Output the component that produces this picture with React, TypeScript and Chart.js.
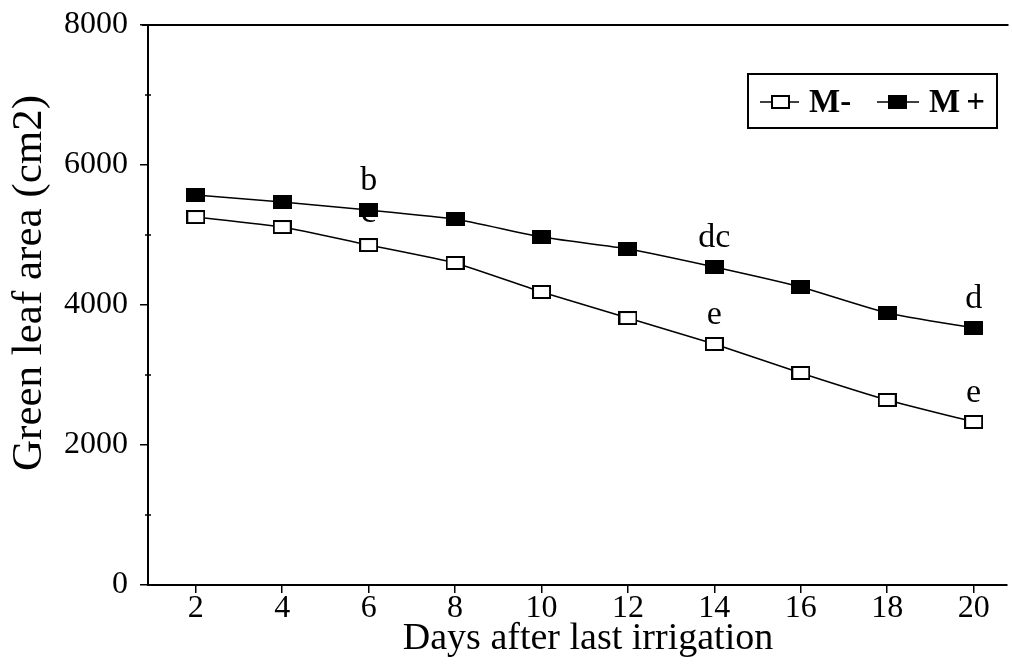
import React, { useEffect, useRef } from "react";
import { Chart, registerables } from "chart.js";
Chart.register(...registerables);

// ---- data ----
const days = [2, 4, 6, 8, 10, 12, 14, 16, 18, 20];
const mMinus = [5257, 5114, 4857, 4600, 4186, 3814, 3443, 3029, 2643, 2329];
const mPlus = [5571, 5471, 5357, 5229, 4971, 4800, 4543, 4257, 3886, 3671];
const xTicks = [2, 4, 6, 8, 10, 12, 14, 16, 18, 20];
const yTicks = [0, 2000, 4000, 6000, 8000];
const yMinorTicks = [1000, 3000, 5000, 7000];
const seriesNames = ["M-", "M+"];
// significance letters: series index (0 = M-, 1 = M+), day, text
const annSeries = [1, 0, 1, 0, 1, 0];
const annDay = [6, 6, 14, 14, 20, 20];
const annText = ["b", "c", "dc", "e", "d", "e"];
const xTitle = "Days after last irrigation";
const yTitle = "Green leaf area (cm2)";

const FONT = '"Liberation Serif", "Times New Roman", serif';

function makeMarker(filled: boolean) {
  const c = document.createElement("canvas");
  c.width = 19;
  c.height = 14;
  const ctx = c.getContext("2d")!;
  ctx.fillStyle = filled ? "#000" : "#fff";
  ctx.fillRect(1, 1, 17, 12);
  ctx.strokeStyle = "#000";
  ctx.lineWidth = 2;
  ctx.strokeRect(1, 1, 17, 12);
  return c;
}

export default function App() {
  const ref = useRef<HTMLCanvasElement | null>(null);

  useEffect(() => {
    if (!ref.current) return;
    const openM = makeMarker(false);
    const fillM = makeMarker(true);
    const series = [mMinus, mPlus];

    const deco = {
      id: "deco",
      beforeDatasetsDraw(chart: any) {
        const ctx = chart.ctx;
        const xs = chart.scales.x;
        const ys = chart.scales.y;
        ctx.save();
        ctx.fillStyle = "#000";
        ctx.font = `34px ${FONT}`;
        ctx.textAlign = "center";
        ctx.textBaseline = "middle";
        annText.forEach((t, i) => {
          const idx = days.indexOf(annDay[i]);
          const v = series[annSeries[i]][idx];
          const px = xs.getPixelForValue(annDay[i]);
          const py = ys.getPixelForValue(v);
          const off = annText[i] === "c" ? 32 : 29;
          ctx.fillText(t, px, py - off);
        });
        ctx.restore();
      },
      afterDraw(chart: any) {
        const ctx = chart.ctx;
        const ca = chart.chartArea;
        const ys = chart.scales.y;
        ctx.save();
        ctx.strokeStyle = "#000";
        // top frame line
        ctx.lineWidth = 2;
        ctx.beginPath();
        ctx.moveTo(ca.left - 6, ca.top);
        ctx.lineTo(ca.right + 2, ca.top);
        ctx.stroke();
        // minor ticks on y
        ctx.lineWidth = 1.5;
        yMinorTicks.forEach((v) => {
          const py = ys.getPixelForValue(v);
          ctx.beginPath();
          ctx.moveTo(ca.left - 3, py);
          ctx.lineTo(ca.left + 3, py);
          ctx.stroke();
        });
        // titles
        ctx.fillStyle = "#000";
        ctx.font = `38px ${FONT}`;
        ctx.textAlign = "center";
        ctx.textBaseline = "middle";
        ctx.fillText(xTitle, 588, 639);
        ctx.save();
        ctx.translate(30, 283);
        ctx.rotate(-Math.PI / 2);
        ctx.font = `43px ${FONT}`;
        ctx.fillText(yTitle, 0, 0);
        ctx.restore();
        // legend
        ctx.lineWidth = 2;
        ctx.strokeRect(748, 74, 249, 54);
        const ly = 102;
        const items = [
          { x0: 760, x1: 799, mx: 780, tx: 809, img: openM },
          { x0: 877, x1: 919, mx: 897, tx: 929, img: fillM },
        ];
        ctx.font = `bold 33px ${FONT}`;
        ctx.textAlign = "left";
        items.forEach((it, i) => {
          ctx.lineWidth = 1.5;
          ctx.beginPath();
          ctx.moveTo(it.x0, ly);
          ctx.lineTo(it.x1, ly);
          ctx.stroke();
          ctx.drawImage(it.img, it.mx - 9, ly - 7);
          if (i === 1) (ctx as any).letterSpacing = "6px";
          ctx.fillText(seriesNames[i], it.tx, ly + 1);
          (ctx as any).letterSpacing = "0px";
        });
        ctx.restore();
      },
    };

    const chart = new Chart(ref.current, {
      type: "line",
      data: {
        datasets: [
          {
            label: seriesNames[0],
            data: days.map((d, i) => ({ x: d, y: mMinus[i] })),
            borderColor: "#000",
            borderWidth: 1.5,
            pointStyle: openM as any,
            tension: 0.15,
          },
          {
            label: seriesNames[1],
            data: days.map((d, i) => ({ x: d, y: mPlus[i] })),
            borderColor: "#000",
            borderWidth: 1.5,
            pointStyle: fillM as any,
            tension: 0.15,
          },
        ],
      },
      options: {
        responsive: false,
        animation: false,
        events: [],
        layout: { padding: { top: 25, right: 0, left: 0, bottom: 0 } },
        plugins: { legend: { display: false }, tooltip: { enabled: false } },
        scales: {
          x: {
            type: "linear",
            min: 0.894,
            max: 20.76,
            afterBuildTicks: (s: any) => {
              s.ticks = xTicks.map((v) => ({ value: v }));
            },
            afterFit: (s: any) => {
              s.height = 82;
              s.paddingLeft = 0;
              s.paddingRight = 0;
            },
            grid: {
              drawOnChartArea: false,
              drawTicks: true,
              tickLength: 8,
              color: "#000",
              lineWidth: 1.5,
            },
            border: { display: true, color: "#000", width: 2 },
            ticks: {
              color: "#000",
              padding: -4,
              maxRotation: 0,
              autoSkip: false,
              font: { family: FONT, size: 32 },
            },
          },
          y: {
            type: "linear",
            min: 0,
            max: 8000,
            afterBuildTicks: (s: any) => {
              s.ticks = yTicks.map((v) => ({ value: v }));
            },
            afterFit: (s: any) => {
              s.width = 148;
              s.paddingTop = 0;
              s.paddingBottom = 0;
            },
            grid: {
              drawOnChartArea: false,
              drawTicks: true,
              tickLength: 8,
              color: "#000",
              lineWidth: 1.5,
            },
            border: { display: true, color: "#000", width: 2 },
            ticks: {
              color: "#000",
              padding: 12,
              font: { family: FONT, size: 32 },
              callback: (v: any) => String(v),
            },
          },
        },
      },
      plugins: [deco],
    });
    return () => chart.destroy();
  }, []);

  return (
    <div style={{ position: "fixed", left: 0, top: 0, width: 1012, height: 667, background: "#fff" }}>
      <canvas ref={ref} width={1012} height={667} style={{ width: 1012, height: 667 }} />
    </div>
  );
}
